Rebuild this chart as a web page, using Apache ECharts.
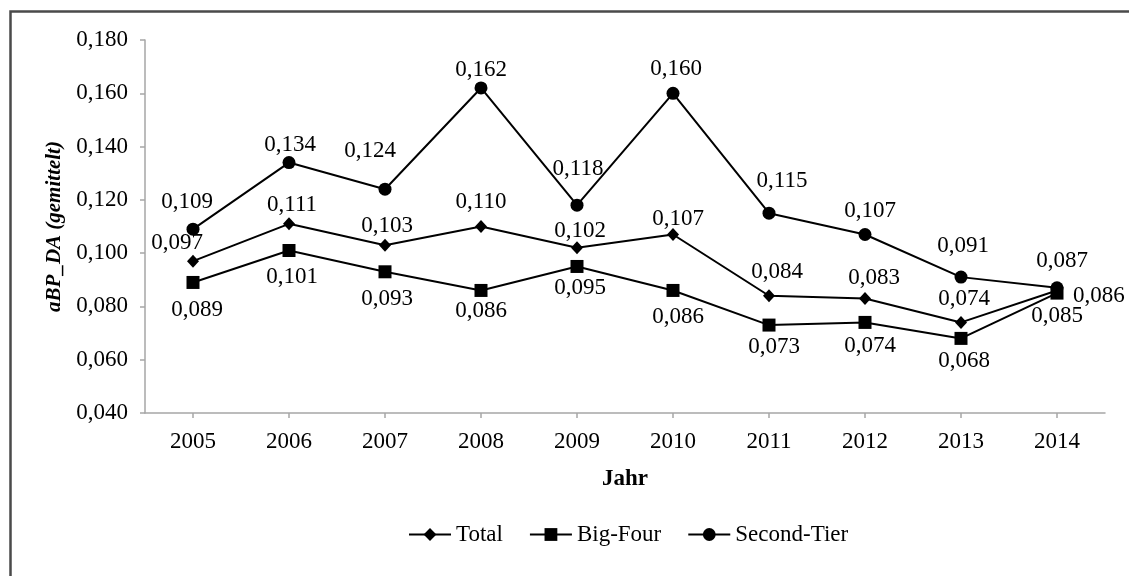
<!DOCTYPE html>
<html>
<head>
<meta charset="utf-8">
<script src="https://cdn.jsdelivr.net/npm/echarts@6/dist/echarts.min.js"></script>
<style>
html,body{margin:0;padding:0;background:#fff;}
#chart{width:1129px;height:576px;}
</style>
</head>
<body>
<div id="chart"></div>
<script>
var years = ['2005','2006','2007','2008','2009','2010','2011','2012','2013','2014'];
var total = [0.097, 0.111, 0.103, 0.110, 0.102, 0.107, 0.084, 0.083, 0.074, 0.086];
var bigFour = [0.089, 0.101, 0.093, 0.086, 0.095, 0.086, 0.073, 0.074, 0.068, 0.085];
var secondTier = [0.109, 0.134, 0.124, 0.162, 0.118, 0.160, 0.115, 0.107, 0.091, 0.087];
var yMin = 0.04, yMax = 0.18, yStep = 0.02;

// label placement tweaks (style only)
var stOffsets = [[-6,-4],[1,5],[-15,-15],[0,5],[1,-13],[3,-1],[13,-9],[5,-1],[2,-8],[5,-4]];
var totOffsets = [[-16,5],[3,4],[2,4],[0,-2],[3,6],[5,7],[8,-1],[9,3],[3,0],[0,0]];
var bfOffsets = [[4,5],[3,3],[2,4],[0,-2],[3,-2],[5,4],[5,-1],[5,1],[3,0],[0,0]];

var FONT = '"Liberation Serif","DejaVu Serif",serif';
var FS = 23;

function fmt(v){ return v.toFixed(3).replace('.', ','); }

function mkData(vals, pos, offs, special){
  return vals.map(function(v,i){
    var lab = {position: pos, offset: offs[i]};
    if (special && special[i]) lab = special[i];
    return {value: v, label: lab};
  });
}

var labelBase = {
  show: true, color: '#000', fontFamily: FONT, fontSize: FS,
  formatter: function(p){ return fmt(p.value); }
};

var chart = echarts.init(document.getElementById('chart'), null, {renderer:'canvas'});
chart.setOption({
  animation: false,
  backgroundColor: '#fff',
  textStyle: {fontFamily: FONT},
  graphic: [{
    type: 'rect', left: 8, top: 9, silent: true,
    shape: {width: 1400, height: 800},
    style: {fill: 'none', stroke: '#4a4a4a', lineWidth: 2.5}
  }],
  grid: {left: 145, right: 24, top: 40, bottom: 163},
  legend: {
    top: 518, left: 403,
    itemWidth: 42, itemHeight: 16, itemGap: 26,
    textStyle: {fontFamily: FONT, fontSize: FS, color: '#000'},
    data: ['Total','Big-Four','Second-Tier']
  },
  xAxis: {
    type: 'category', data: years, boundaryGap: true,
    name: 'Jahr', nameLocation: 'middle', nameGap: 55,
    nameTextStyle: {fontFamily: FONT, fontSize: FS, fontWeight: 'bold', color: '#000'},
    axisLine: {lineStyle: {color: '#a6a6a6', width: 1.5}},
    axisTick: {show: true, alignWithLabel: true, length: 5, lineStyle: {color: '#a6a6a6', width: 1.5}},
    axisLabel: {fontFamily: FONT, fontSize: FS, color: '#000', margin: 17}
  },
  yAxis: {
    type: 'value', min: yMin, max: yMax, interval: yStep,
    name: 'aBP_DA (gemittelt)', nameLocation: 'middle', nameGap: 80,
    nameTextStyle: {fontFamily: FONT, fontSize: 21, fontWeight: 'bold', fontStyle: 'italic', color: '#000'},
    axisLine: {show: true, lineStyle: {color: '#a6a6a6', width: 1.5}},
    axisTick: {show: true, length: 5, lineStyle: {color: '#a6a6a6', width: 1.5}},
    splitLine: {show: false},
    axisLabel: {fontFamily: FONT, fontSize: FS, color: '#000', margin: 17,
      formatter: function(v){ return fmt(v); }}
  },
  series: [
    {
      name: 'Total', type: 'line', symbol: 'diamond', symbolSize: [12,13],
      itemStyle: {color: '#000'}, lineStyle: {color: '#000', width: 2},
      label: labelBase,
      data: mkData(total, 'top', totOffsets, {9: {position: 'right', offset: [5, 6]}}),
      z: 3
    },
    {
      name: 'Big-Four', type: 'line', symbol: 'rect', symbolSize: 13,
      itemStyle: {color: '#000'}, lineStyle: {color: '#000', width: 2},
      label: labelBase,
      data: mkData(bigFour, 'bottom', bfOffsets, {9: {position: 'bottom', offset: [0, 0]}}),
      z: 3
    },
    {
      name: 'Second-Tier', type: 'line', symbol: 'circle', symbolSize: 13,
      itemStyle: {color: '#000'}, lineStyle: {color: '#000', width: 2},
      label: labelBase,
      data: mkData(secondTier, 'top', stOffsets),
      z: 3
    }
  ]
});
</script>
</body>
</html>
